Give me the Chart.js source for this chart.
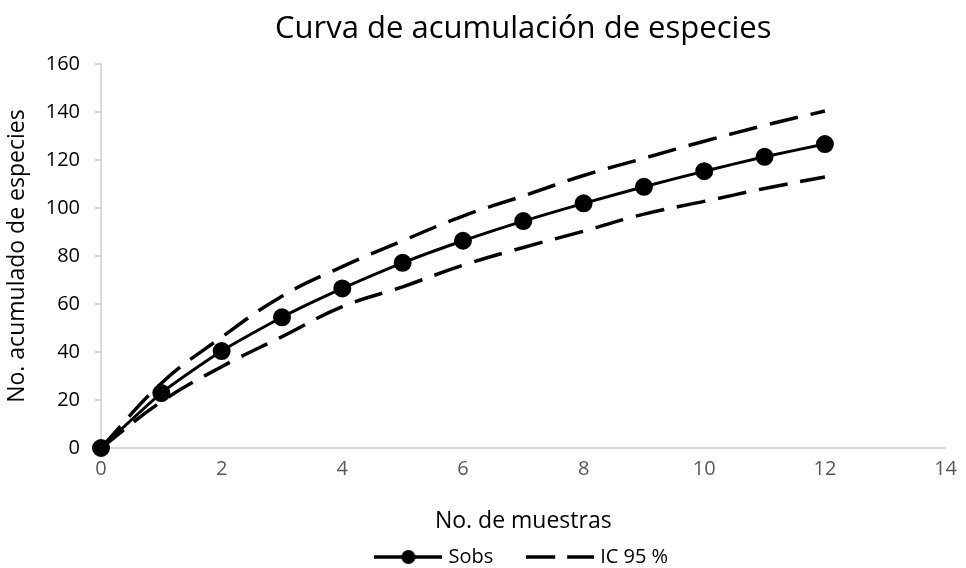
<!DOCTYPE html>
<html>
<head>
<meta charset="utf-8">
<script src="https://cdn.jsdelivr.net/npm/chart.js@4.4.0/dist/chart.umd.min.js"></script>
<style>
  html, body { margin: 0; padding: 0; background: #fff; }
  #wrap { width: 966px; height: 568px; }
</style>
</head>
<body>
<div id="wrap"><canvas id="c" width="966" height="568"></canvas></div>
<script>
const muestras = [0, 1, 2, 3, 4, 5, 6, 7, 8, 9, 10, 11, 12];
const sobs     = [0, 22.9, 40.4, 54.5, 66.5, 77.2, 86.4, 94.6, 102.0, 108.9, 115.4, 121.4, 126.7];
const icUpper  = [0, 27.0, 46.2, 63.3, 75.6, 86.4, 96.7, 105.1, 113.6, 120.8, 127.9, 134.5, 140.5];
const icLower  = [0, 19.3, 33.9, 46.4, 58.9, 67.2, 76.2, 83.6, 90.4, 97.5, 102.8, 108.2, 113.0];
const xTicks   = [0, 2, 4, 6, 8, 10, 12, 14];
const yTicks   = [0, 20, 40, 60, 80, 100, 120, 140, 160];

const FONT = "'Open Sans', 'Noto Sans', sans-serif";
const pts = (arr) => muestras.map((x, i) => ({ x: x, y: arr[i] }));

// legend symbols (line + marker, dashed line)
function legendSymbol(kind) {
  const w = 68, h = 18;
  const cv = document.createElement('canvas');
  cv.width = w; cv.height = h;
  const g = cv.getContext('2d');
  g.strokeStyle = '#000';
  g.fillStyle = '#000';
  g.lineWidth = 3.5;
  g.lineCap = 'butt';
  if (kind === 'solid') {
    g.beginPath(); g.moveTo(0, h / 2); g.lineTo(w, h / 2); g.stroke();
    g.beginPath(); g.arc(w / 2, h / 2, 7, 0, Math.PI * 2); g.fill();
  } else {
    g.setLineDash([29, 12]);
    g.beginPath(); g.moveTo(0, h / 2); g.lineTo(w, h / 2); g.stroke();
  }
  return cv;
}
const symSolid = legendSymbol('solid');
const symDash = legendSymbol('dash');

new Chart(document.getElementById('c'), {
  type: 'scatter',
  data: {
    datasets: [
      {
        label: 'Sobs',
        data: pts(sobs),
        showLine: true,
        clip: false,
        borderColor: '#000',
        backgroundColor: '#000',
        borderWidth: 3,
        pointRadius: 7.5,
        pointHoverRadius: 7.5,
        pointBackgroundColor: '#000',
        pointBorderColor: '#000',
        tension: 0.2,
        order: 0
      },
      {
        label: 'IC 95 %',
        data: pts(icUpper),
        showLine: true,
        clip: false,
        borderColor: '#000',
        backgroundColor: '#000',
        borderWidth: 3.5,
        borderDash: [29, 13],
        pointRadius: 0,
        tension: 0.4,
        order: 1
      },
      {
        label: 'IC 95 % inferior',
        data: pts(icLower),
        showLine: true,
        clip: false,
        borderColor: '#000',
        backgroundColor: '#000',
        borderWidth: 3.5,
        borderDash: [29, 13],
        pointRadius: 0,
        tension: 0.4,
        order: 1
      }
    ]
  },
  options: {
    responsive: false,
    animation: false,
    layout: { padding: { left: 0, right: 17, top: 0, bottom: 0 } },
    plugins: {
      title: {
        display: true,
        fullSize: false,
        text: 'Curva de acumulación de especies',
        color: '#000',
        font: { family: FONT, size: 31, weight: 'normal' },
        padding: { top: 11, bottom: 16 }
      },
      legend: {
        position: 'bottom',
        fullSize: false,
        maxHeight: 58,
        labels: {
          color: '#000',
          font: { family: FONT, size: 20 },
          usePointStyle: true,
          pointStyleWidth: 60,
          padding: 37,
          filter: (item) => item.datasetIndex !== 2,
          generateLabels: (chart) => {
            const items = Chart.defaults.plugins.legend.labels.generateLabels(chart);
            items.forEach(it => {
              it.pointStyle = it.datasetIndex === 0 ? symSolid : symDash;
            });
            return items;
          }
        }
      },
      tooltip: { enabled: false }
    },
    scales: {
      x: {
        type: 'linear',
        min: 0,
        max: 14,
        afterBuildTicks: (s) => { s.ticks = xTicks.map(v => ({ value: v })); },
        afterFit: (s) => { s.height = 62; },
        ticks: {
          color: '#595959',
          font: { family: FONT, size: 20 },
          padding: 9
        },
        grid: { display: false, drawTicks: false },
        border: { display: true, color: '#d9d9d9', width: 2 },
        title: {
          display: true,
          text: 'No. de muestras',
          color: '#000',
          font: { family: FONT, size: 23 },
          padding: { top: 0, bottom: -25 }
        }
      },
      y: {
        type: 'linear',
        min: 0,
        max: 160,
        afterBuildTicks: (s) => { s.ticks = yTicks.map(v => ({ value: v })); },
        afterFit: (s) => { s.width = 101; },
        ticks: {
          color: '#000',
          font: { family: FONT, size: 20 },
          padding: 15
        },
        grid: { display: true, drawOnChartArea: false, drawTicks: true, tickLength: 6, color: '#d9d9d9', lineWidth: 2 },
        border: { display: true, color: '#d9d9d9', width: 2 },
        title: {
          display: true,
          text: 'No. acumulado de especies',
          color: '#000',
          font: { family: FONT, size: 23 },
          padding: { top: 4, bottom: 4 }
        }
      }
    }
  }
});
</script>
</body>
</html>
